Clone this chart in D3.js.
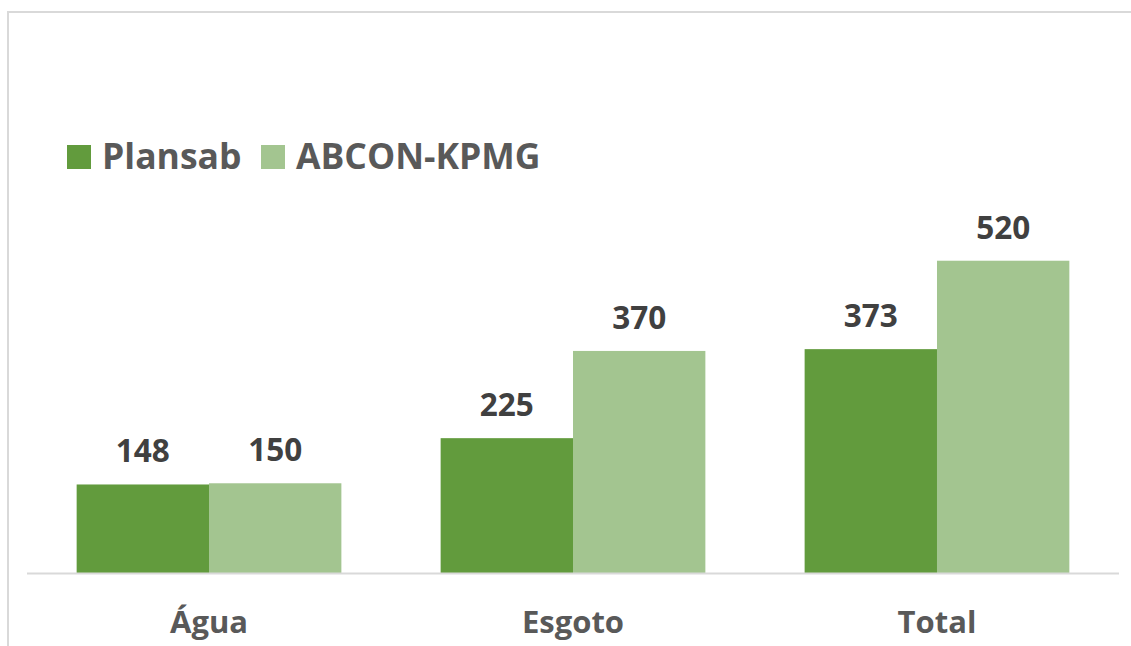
<!DOCTYPE html>
<html>
<head>
<meta charset="utf-8">
<script src="https://cdn.jsdelivr.net/npm/d3@7"></script>
<style>
  html, body { margin: 0; padding: 0; background: #fff; }
  svg { display: block; }
  text { font-family: "Open Sans", "Noto Sans", sans-serif; font-weight: 700; }
</style>
</head>
<body>
<svg id="chart" width="1131" height="646"></svg>
<script>
const categories = ["Água", "Esgoto", "Total"];
const seriesNames = ["Plansab", "ABCON-KPMG"];
const plansab = [148, 225, 373];
const abcon = [150, 370, 520];
const colors = ["#629B3D", "#A3C590"];

const W = 1131, H = 646;
const svg = d3.select("#chart");

// outer frame (top + left visible)
svg.append("line").attr("x1", 7).attr("x2", W).attr("y1", 12).attr("y2", 12)
  .attr("stroke", "#d9d9d9").attr("stroke-width", 2);
svg.append("line").attr("x1", 8).attr("x2", 8).attr("y1", 11).attr("y2", H)
  .attr("stroke", "#d9d9d9").attr("stroke-width", 2);

const plotLeft = 27, plotRight = 1119, baseY = 573.5;
const x0 = d3.scaleBand().domain(categories).range([27, 1119]).paddingInner(0.2727).paddingOuter(0.1364);
const x1 = d3.scaleBand().domain(seriesNames).range([0, x0.bandwidth()]).padding(0);
const y = d3.scaleLinear().domain([0, 600]).range([baseY, baseY - 600 * 0.6015]);

const data = categories.map((c, i) => ({cat: c, vals: [plansab[i], abcon[i]]}));

const g = svg.append("g");
const groups = g.selectAll("g.cat").data(data).join("g")
  .attr("transform", d => `translate(${x0(d.cat)},0)`);

groups.selectAll("rect").data(d => d.vals.map((v, j) => ({v, s: seriesNames[j], j})))
  .join("rect")
  .attr("x", d => x1(d.s))
  .attr("width", x1.bandwidth())
  .attr("y", d => y(d.v))
  .attr("height", d => y(0) - y(d.v))
  .attr("fill", d => colors[d.j]);

groups.selectAll("text.val").data(d => d.vals.map((v, j) => ({v, s: seriesNames[j], j})))
  .join("text").attr("class", "val")
  .attr("x", d => x1(d.s) + x1.bandwidth() / 2)
  .attr("y", d => y(d.v) - 22)
  .attr("text-anchor", "middle")
  .attr("font-size", 31.5)
  .attr("fill", "#404040")
  .text(d => d.v);

// baseline axis
const xAxis = d3.axisBottom(x0).tickSize(0).tickPadding(0);
const ax = svg.append("g").attr("transform", `translate(0,${baseY})`).call(xAxis);
ax.select(".domain").attr("stroke", "#d9d9d9").attr("stroke-width", 2)
  .attr("d", `M${plotLeft},0H${plotRight}`);
ax.selectAll(".tick text")
  .attr("y", 59.5).attr("dy", 0)
  .attr("font-size", 31)
  .attr("font-family", "'Open Sans', sans-serif")
  .attr("font-weight", 700)
  .attr("fill", "#595959");

// legend
const legend = svg.append("g");
const legItems = [{name: seriesNames[0], x: 67, tx: 102}, {name: seriesNames[1], x: 261, tx: 296}];
legItems.forEach((it, i) => {
  legend.append("rect").attr("x", it.x).attr("y", 145).attr("width", 24).attr("height", 24).attr("fill", colors[i]);
  legend.append("text").attr("x", it.tx).attr("y", 169).attr("font-size", 35.5)
    .attr("fill", "#595959").text(it.name);
});
</script>
</body>
</html>
